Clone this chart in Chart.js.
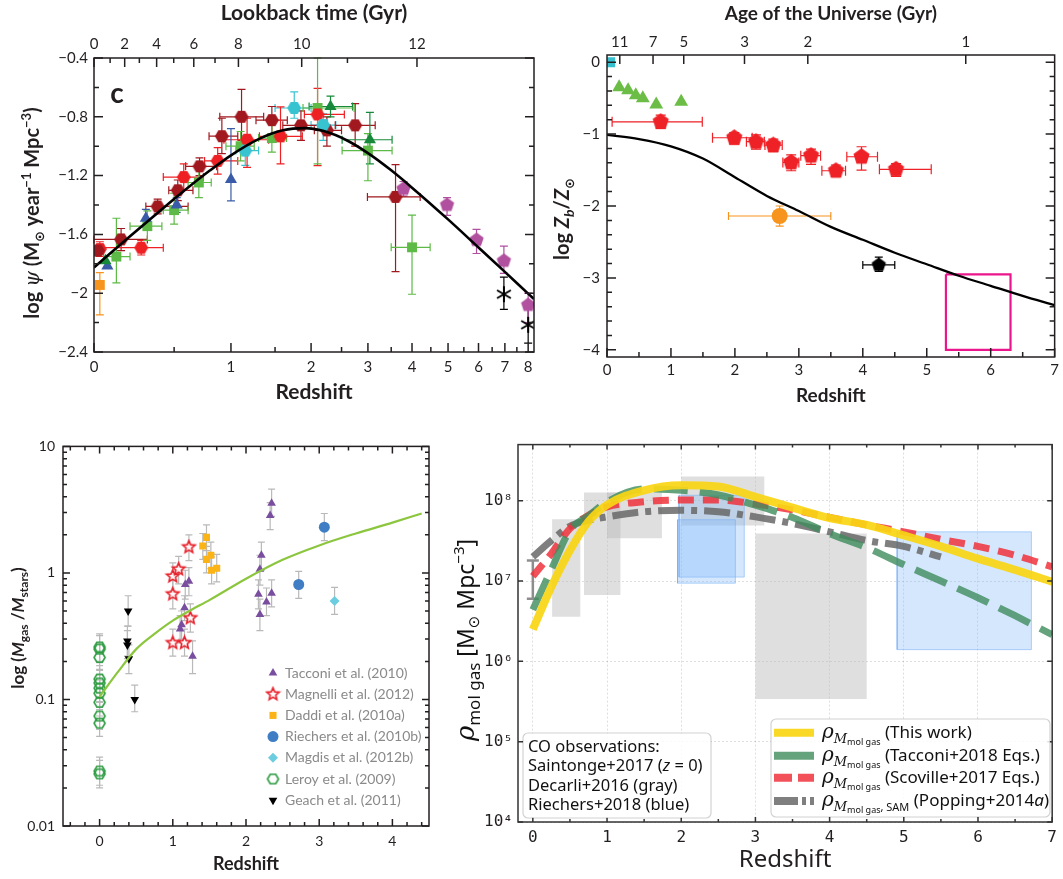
<!DOCTYPE html>
<html>
<head>
<meta charset="utf-8">
<title>Cosmic histories</title>
<script src="https://cdn.jsdelivr.net/npm/chart.js@4.4.1/dist/chart.umd.min.js"></script>
<style>
  html, body { margin: 0; padding: 0; background: #fff; }
  #page { position: relative; width: 1063px; height: 879px; overflow: hidden; }
  .panel { position: absolute; }
</style>
</head>
<body>
<div id="page">
  <div class="panel" style="left:0;top:0;width:545px;height:410px"><canvas id="sfh"></canvas></div>
  <div class="panel" style="left:545px;top:0;width:518px;height:410px"><canvas id="metal"></canvas></div>
  <div class="panel" style="left:0;top:430px;width:460px;height:449px"><canvas id="gasfrac"></canvas></div>
  <div class="panel" style="left:450px;top:430px;width:613px;height:449px"><canvas id="molgas"></canvas></div>
</div>
<script>
// ---------- panel c: star formation rate density ----------
// rows: [z, log psi, z low, z high, log psi low, log psi high]
const sfhRed = [
  [0.03, -1.70, null, null, -1.65, -1.75],
  [0.27, -1.69, 0.05, 0.42, -1.64, -1.74],
  [0.575, -1.21, 0.42, 0.74, -1.12, -1.30],
  [0.87, -1.10, 0.75, 1.07, -1.01, -1.19],
  [1.17, -0.956, 0.93, 1.42, -0.81, -1.144],
  [1.57, -0.933, 1.31, 1.87, -0.732, -1.12],
  [2.1, -0.784, 1.9, 2.55, -0.606, -1.132]
];
const sfhDarkRed = [
  [0.02, -1.71, null, null, null, null],
  [0.147, -1.634, 0.0, 0.31, -1.56, -1.71],
  [0.38, -1.41, 0.30, 0.61, -1.36, -1.46],
  [0.528, -1.30, 0.46, 0.65, -1.23, -1.37],
  [0.706, -1.137, 0.59, 0.86, -1.08, -1.20],
  [0.91, -0.932, 0.79, 1.07, -0.81, -1.05],
  [1.11, -0.80, 0.89, 1.36, -0.613, -0.96],
  [1.46, -0.823, 1.27, 1.66, -0.73, -0.915],
  [1.85, -0.858, 1.6, 2.17, -0.76, -0.96],
  [2.25, -0.892, 2.05, 2.5, -0.80, -1.0],
  [2.75, -0.858, 2.39, 3.15, -0.71, -1.0],
  [3.6, -1.345, 2.99, 4.21, -1.125, -1.853]
];
const sfhGreen = [
  [0.12, -1.751, 0.05, 0.2, -1.49, -1.93],
  [0.31, -1.544, 0.2, 0.41, -1.44, -1.64],
  [0.50, -1.435, 0.42, 0.61, -1.32, -1.53],
  [0.70, -1.247, 0.61, 0.81, -1.15, -1.35],
  [1.1, -1.0, 0.95, 1.25, -0.9, -1.1],
  [1.46, -0.945, 1.3, 1.65, -0.85, -1.04],
  [2.1, -0.74, 1.88, 2.73, -0.4, -1.12],
  [3.0, -1.03, 2.51, 3.52, -0.915, -1.235],
  [4.0, -1.688, 3.5, 4.48, -1.469, -2.007]
];
const sfhDarkGreen = [
  [0.06, -1.78, null, null, null, null],
  [2.31, -0.73, 1.97, 2.7, -0.66, -0.8],
  [3.04, -0.956, 2.51, 3.52, -0.77, -1.12]
];
const sfhBlue = [
  [0.07, -1.815, null, null, null, null],
  [0.30, -1.49, null, null, -1.43, -1.55],
  [0.52, -1.40, null, null, -1.35, -1.45],
  [1.0, -1.227, null, null, -0.88, -1.372]
];
const sfhCyan = [
  [1.15, -1.03, 1.05, 1.3, -0.93, -1.13],
  [1.755, -0.74, 1.5, 2.0, -0.63, -0.81],
  [2.19, -0.856, 2.0, 2.4, -0.78, -0.96]
];
const sfhMagenta = [
  [3.79, -1.29, null, null, -1.24, -1.34],
  [4.97, -1.40, null, null, -1.35, -1.47],
  [5.93, -1.638, null, null, -1.566, -1.73],
  [6.96, -1.78, null, null, -1.68, -1.865],
  [8.0, -2.08, null, null, -2.0, -2.2]
];
const sfhOrange = [[0.03, -1.944, null, null, -1.86, -2.147]];
const sfhBlack = [
  [6.96, -2.007, null, null, -1.89, -2.11],
  [8.0, -2.215, null, null, -2.07, -2.34]
];
const sfhCurveZ = [0, 0.2, 0.4, 0.6, 0.8, 1, 1.3, 1.6, 1.9, 2.2, 2.6, 3, 3.5, 4, 5, 6, 7, 8, 8.27];
const sfhCurveV = [-1.825, -1.613, -1.437, -1.288, -1.164, -1.062, -0.952, -0.892, -0.877, -0.897,
                   -0.961, -1.047, -1.164, -1.282, -1.498, -1.689, -1.855, -2.003, -2.04];
const sfhZTicks = [0, 1, 2, 3, 4, 5, 6, 7, 8];
const sfhZMinor = [0.5, 1.5, 2.5, 3.5, 4.5, 5.5, 6.5, 7.5];
const sfhYTicks = [-2.4, -2.0, -1.6, -1.2, -0.8, -0.4];
const sfhYMinor = [-2.2, -1.8, -1.4, -1.0, -0.6];
const lookbackLabels = [0, 2, 4, 6, 8, 10, 12];
const lookbackZ = [0, 0.168, 0.373, 0.657, 1.077, 1.861, 4.127];
const lookbackMinorZ = [0.085, 0.258, 0.497, 0.845, 1.417, 2.606];

// ---------- top right: metallicity of the universe ----------
const metCyan = [[0.05, 0.0]];
const metGreen = [[0.19, -0.35], [0.33, -0.39], [0.45, -0.46], [0.56, -0.5], [0.77, -0.59], [1.16, -0.55]];
const metRed = [
  [0.84, -0.829, 0.08, 1.49, -0.736, -0.921],
  [1.99, -1.051, 1.65, 2.27, -0.98, -1.14],
  [2.33, -1.106, 2.18, 2.46, -1.01, -1.21],
  [2.6, -1.153, 2.47, 2.74, -1.07, -1.245],
  [2.88, -1.394, 2.75, 3.0, -1.29, -1.51],
  [3.19, -1.30, 3.03, 3.34, -1.21, -1.42],
  [3.58, -1.51, 3.36, 3.73, -1.43, -1.59],
  [3.98, -1.315, 3.75, 4.23, -1.176, -1.5],
  [4.52, -1.49, 4.26, 5.07, -1.41, -1.59]
];
const metOrange = [[2.7, -2.139, 1.9, 3.5, -2.0, -2.28]];
const metBlack = [[4.25, -2.82, 4.0, 4.5, -2.71, -2.91]];
const metBox = [[5.3, -2.95], [6.31, -2.95], [6.31, -4.0], [5.3, -4.0], [5.3, -2.95]];
const metCurveZ = [0, 0.5, 1, 1.5, 2, 2.5, 3, 3.5, 4, 4.5, 5, 5.5, 6, 6.5, 7];
const metCurveV = [-1.01, -1.07, -1.17, -1.34, -1.6, -1.86, -2.07, -2.29, -2.47, -2.65, -2.81, -2.97, -3.11, -3.25, -3.38];
const metZTicks = [0, 1, 2, 3, 4, 5, 6, 7];
const metYTicks = [-4, -3, -2, -1, 0];
const ageLabels = [11, 7, 5, 3, 2, 1];
const ageZ = [0.2, 0.72, 1.2, 2.15, 3.14, 5.61];

// ---------- bottom left: gas fractions ----------
// rows: [z, Mgas/Mstars, low, high]
const fracTacconi = [
  [1.10, 0.36, 0.28, 0.46], [1.12, 0.39, 0.30, 0.50], [1.16, 0.53, 0.42, 0.66], [1.17, 0.81, 0.62, 1.05],
  [1.22, 0.86, 0.66, 1.1], [1.27, 0.22, 0.16, 0.29], [2.17, 0.68, 0.52, 0.88], [2.19, 1.07, 0.80, 1.38],
  [2.21, 1.38, 1.05, 1.75], [2.19, 0.47, 0.35, 0.62], [2.28, 0.59, 0.46, 0.76], [2.35, 0.69, 0.54, 0.88],
  [2.33, 2.85, 2.2, 3.6], [2.35, 3.55, 2.8, 4.6]
];
const fracMagnelli = [
  [1.0, 0.94, 0.72, 1.2], [1.08, 1.07, 0.82, 1.35], [1.0, 0.68, 0.52, 0.88], [1.22, 1.6, 1.25, 2.0],
  [1.24, 0.44, 0.34, 0.57], [1.0, 0.28, 0.22, 0.36], [1.16, 0.28, 0.22, 0.36]
];
const fracDaddi = [
  [1.46, 1.91, 1.5, 2.4], [1.41, 1.63, 1.28, 2.05], [1.52, 1.38, 1.08, 1.75],
  [1.46, 1.28, 1.0, 1.62], [1.6, 1.09, 0.85, 1.4], [1.53, 1.05, 0.82, 1.34]
];
const fracRiechers = [[3.07, 2.3, 1.8, 2.95], [2.72, 0.81, 0.63, 1.03]];
const fracMagdis = [[3.21, 0.6, 0.47, 0.77]];
const fracLeroy = [
  [0, 0.26, 0.2, 0.33], [0, 0.25, 0.195, 0.32], [0, 0.215, 0.17, 0.28], [0, 0.145, 0.113, 0.185],
  [0, 0.135, 0.105, 0.173], [0, 0.123, 0.096, 0.157], [0, 0.112, 0.087, 0.143], [0, 0.095, 0.074, 0.122],
  [0, 0.074, 0.058, 0.095], [0, 0.065, 0.051, 0.083], [0, 0.0272, 0.021, 0.035], [0, 0.0258, 0.02, 0.033]
];
const fracGeach = [[0.39, 0.5, 0.38, 0.66], [0.38, 0.29, 0.22, 0.38], [0.38, 0.27, 0.21, 0.35], [0.4, 0.21, 0.16, 0.27], [0.48, 0.1, 0.08, 0.13]];
const fracCurveZ = [0, 0.25, 0.5, 0.75, 1, 1.25, 1.5, 2, 2.5, 3, 3.5, 4, 4.4];
const fracCurveV = [0.105, 0.165, 0.25, 0.33, 0.42, 0.51, 0.61, 0.9, 1.27, 1.65, 2.05, 2.5, 2.95];
const fracZTicks = [0, 1, 2, 3, 4];
const fracYTicks = [0.01, 0.1, 1, 10];

// ---------- bottom right: molecular gas density ----------
const gasZ = [0, 0.25, 0.5, 0.75, 1, 1.5, 2, 2.5, 3, 3.5, 4, 4.5, 5, 5.5, 6, 6.5, 7];
const gasThisWork = [2.5e6, 8.5e6, 2.4e7, 5.5e7, 8.9e7, 1.35e8, 1.56e8, 1.5e8, 1.12e8, 8.2e7, 6.1e7, 5.0e7, 3.7e7, 2.7e7, 1.9e7, 1.38e7, 9.8e6];
const gasTacconi = [4.4e6, 1.4e7, 4.3e7, 6.5e7, 9.7e7, 1.4e8, 1.35e8, 1.18e8, 8.8e7, 6.2e7, 3.9e7, 2.6e7, 1.6e7, 1.0e7, 6.2e6, 3.7e6, 2.15e6];
const gasScoville = [1.15e7, 2.2e7, 4.5e7, 6.6e7, 8.4e7, 9.7e7, 1.02e8, 1.02e8, 9.1e7, 7.7e7, 6.2e7, 5.0e7, 4.1e7, 3.3e7, 2.7e7, 2.1e7, 1.5e7];
const gasPopping = [2.0e7, 3.2e7, 4.8e7, 5.7e7, 6.3e7, 7.3e7, 7.6e7, 7.3e7, 6.3e7, 5.2e7, 4.1e7, 3.2e7, 2.7e7, 2.0e7];
const saintonge = [0, 6.0e6, 1.8e7]; // z, low, high
// boxes: [z from, z to, low, high]
const decarliBoxes = [[0.26, 0.64, 3.6e6, 5.9e7], [0.69, 1.18, 6.7e6, 1.27e8], [1.0, 1.74, 3.4e7, 1.27e8], [2.0, 3.12, 4.9e7, 2.0e8], [3.0, 4.5, 3.4e5, 3.9e7]];
const riechersBoxes = [[1.95, 2.73, 9.4e6, 5.8e7], [1.97, 2.85, 1.12e7, 1.17e8], [4.91, 6.72, 1.4e6, 4.1e7]];
const gasZTicks = [0, 1, 2, 3, 4, 5, 6, 7];
const gasZMinor = [0.5, 1.5, 2.5, 3.5, 4.5, 5.5, 6.5];
const gasYTicks = [1e4, 1e5, 1e6, 1e7, 1e8];

// ---------------------------------------------------------------
Chart.defaults.font.family = 'Lato, "DejaVu Sans", sans-serif';
Chart.defaults.color = '#231f20';
Chart.defaults.animation = false;
Chart.defaults.plugins.legend.display = false;
Chart.defaults.plugins.tooltip.enabled = false;
const INK = '#231f20';

function shape(kind, r, fill, stroke, lw) {
  lw = lw || 0;
  const s = Math.ceil(2 * r + lw + 2);
  const c = document.createElement('canvas');
  c.width = s; c.height = s;
  const g = c.getContext('2d');
  g.translate(s / 2, s / 2);
  g.beginPath();
  if (kind === 'ast') {
    for (let i = 0; i < 3; i++) {
      const a = Math.PI / 2 + i * Math.PI / 3;
      g.moveTo(r * Math.cos(a), r * Math.sin(a));
      g.lineTo(-r * Math.cos(a), -r * Math.sin(a));
    }
    g.lineWidth = lw; g.strokeStyle = stroke; g.stroke();
    return c;
  }
  if (kind === 'star') {
    for (let i = 0; i < 10; i++) {
      const a = -Math.PI / 2 + i * Math.PI / 5, rr = i % 2 ? r * 0.45 : r;
      g.lineTo(rr * Math.cos(a), rr * Math.sin(a));
    }
  } else {
    const n = kind === 'hex' ? 6 : 5, a0 = kind === 'hex' ? 0 : -Math.PI / 2;
    for (let i = 0; i < n; i++) {
      const a = a0 + i * 2 * Math.PI / n;
      g.lineTo(r * Math.cos(a), r * Math.sin(a));
    }
  }
  g.closePath();
  if (fill) { g.fillStyle = fill; g.fill(); }
  if (stroke && lw) { g.lineWidth = lw; g.strokeStyle = stroke; g.stroke(); }
  return c;
}

// rows with [x, y, xlo, xhi, ylo, yhi]; shift moves x (1+z on the log axis)
function series(rows, style, shift) {
  shift = shift || 0;
  const sx = v => (v == null ? null : v + shift);
  return Object.assign({
    data: rows.map(r => ({ x: r[0] + shift, y: r[1] })),
    errs: rows.map(r => [sx(r[2]), sx(r[3]), r[4] == null ? null : r[4], r[5] == null ? null : r[5]]),
    errColor: style.backgroundColor, borderWidth: 0
  }, style);
}
// rows with [x, y, ylo, yhi]
function vseries(rows, style) {
  return Object.assign({
    data: rows.map(r => ({ x: r[0], y: r[1] })),
    errs: rows.map(r => [null, null, r[2], r[3]]),
    errColor: '#b9b9b9', errWidth: 1.2, cap: 3.5, borderWidth: 0
  }, style);
}
function curve(xs, ys, color, width, dash, shift) {
  shift = shift || 0;
  return {
    type: 'line', data: xs.slice(0, ys.length).map((x, i) => ({ x: x + shift, y: ys[i] })),
    borderColor: color, borderWidth: width, borderDash: dash || [], borderCapStyle: 'butt',
    pointRadius: 0, fill: false, cubicInterpolationMode: 'monotone'
  };
}
function box(b, fillC, lineC) {
  return {
    type: 'line',
    data: [{ x: b[0], y: b[2] }, { x: b[1], y: b[2] }, { x: b[1], y: b[3] }, { x: b[0], y: b[3] }, { x: b[0], y: b[2] }],
    fill: 'shape', backgroundColor: fillC, borderColor: lineC || 'rgba(0,0,0,0)', borderWidth: lineC ? 1 : 0,
    pointRadius: 0, tension: 0
  };
}
function axis(o) {
  return Object.assign({ grid: { display: false, drawTicks: false }, border: { display: false } }, o);
}
const fixTicks = list => s => { s.ticks = list.map(v => ({ value: v })); };
const minus = v => String(Math.round(v * 10) / 10).replace('-', '\u2212');

const errorBars = {
  id: 'errorBars',
  beforeDatasetsDraw(chart) {
    const ctx = chart.ctx;
    chart.data.datasets.forEach(ds => {
      if (!ds.errs) return;
      const xs = chart.scales.x, ys = chart.scales.y, cap = ds.cap || 4;
      ctx.save();
      ctx.strokeStyle = ds.errColor;
      ctx.lineWidth = ds.errWidth || 1.2;
      ds.errs.forEach((e, j) => {
        const px = xs.getPixelForValue(ds.data[j].x), py = ys.getPixelForValue(ds.data[j].y);
        ctx.beginPath();
        if (e[0] != null) {
          const a = xs.getPixelForValue(e[0]), b = xs.getPixelForValue(e[1]);
          ctx.moveTo(a, py); ctx.lineTo(b, py);
          ctx.moveTo(a, py - cap); ctx.lineTo(a, py + cap);
          ctx.moveTo(b, py - cap); ctx.lineTo(b, py + cap);
        }
        if (e[2] != null) {
          const a = ys.getPixelForValue(e[2]), b = ys.getPixelForValue(e[3]);
          ctx.moveTo(px, a); ctx.lineTo(px, b);
          ctx.moveTo(px - cap, a); ctx.lineTo(px + cap, a);
          ctx.moveTo(px - cap, b); ctx.lineTo(px + cap, b);
        }
        ctx.stroke();
      });
      ctx.restore();
    });
  }
};

function framePlugin(spec) {
  return {
    id: 'frame',
    afterDraw(chart) {
      const ctx = chart.ctx, a = chart.chartArea;
      ctx.save();
      ctx.strokeStyle = spec.color;
      ctx.lineWidth = spec.width;
      spec.ticks.forEach(t => {
        const s = chart.scales[t.scale];
        const marks = s.ticks.map(k => [k.value, t.len]).concat((t.minor || []).map(v => [v, t.minorLen]));
        marks.forEach(([v, len]) => {
          const p = s.getPixelForValue(v);
          ctx.beginPath();
          if (s.isHorizontal()) {
            if (p < a.left - 0.5 || p > a.right + 0.5) return;
            if (t.sides.includes('bottom')) { ctx.moveTo(p, a.bottom); ctx.lineTo(p, a.bottom - len); }
            if (t.sides.includes('top')) { ctx.moveTo(p, a.top); ctx.lineTo(p, a.top + len); }
          } else {
            if (p < a.top - 0.5 || p > a.bottom + 0.5) return;
            if (t.sides.includes('left')) { ctx.moveTo(a.left, p); ctx.lineTo(a.left + len, p); }
            if (t.sides.includes('right')) { ctx.moveTo(a.right, p); ctx.lineTo(a.right - len, p); }
          }
          ctx.stroke();
        });
      });
      ctx.strokeRect(a.left, a.top, a.right - a.left, a.bottom - a.top);
      ctx.restore();
      if (spec.extra) { ctx.save(); spec.extra(chart, ctx); ctx.restore(); }
    }
  };
}

// mixed-font text, centred on (x, y) or left-aligned; rotated reads bottom to top
function rich(ctx, parts, x, y, rotate, align) {
  ctx.save();
  ctx.translate(x, y);
  if (rotate) ctx.rotate(-Math.PI / 2);
  let w = 0;
  parts.forEach(p => { ctx.font = p[1]; w += ctx.measureText(p[0]).width; });
  let cx = align === 'left' ? 0 : -w / 2;
  ctx.textAlign = 'left';
  ctx.textBaseline = 'alphabetic';
  parts.forEach(p => { ctx.font = p[1]; ctx.fillText(p[0], cx, p[2] || 0); cx += ctx.measureText(p[0]).width; });
  ctx.restore();
}

// ---------- chart: star formation history ----------
const C = { red: '#ee2024', dred: '#a1191f', green: '#5dba46', dgreen: '#168a3a', blue: '#3a5ca8', cyan: '#38c3d1', mag: '#b1509f', orange: '#f7941d' };
new Chart(document.getElementById('sfh'), {
  type: 'scatter',
  data: {
    datasets: [
      curve(sfhCurveZ, sfhCurveV, '#000', 2.6, [], 1),
      series(sfhBlack, { pointStyle: shape('ast', 8, null, '#000', 2), pointRadius: 8, backgroundColor: '#000' }, 1),
      series(sfhMagenta, { pointStyle: shape('pent', 7.5, C.mag), pointRadius: 7, backgroundColor: C.mag }, 1),
      series(sfhOrange, { pointStyle: 'rect', pointRadius: 7, backgroundColor: C.orange }, 1),
      series(sfhCyan, { pointStyle: shape('hex', 7, C.cyan), pointRadius: 7, backgroundColor: C.cyan }, 1),
      series(sfhDarkRed, { pointStyle: shape('hex', 7, C.dred), pointRadius: 7, backgroundColor: C.dred }, 1),
      series(sfhRed, { pointStyle: shape('hex', 7, C.red), pointRadius: 7, backgroundColor: C.red }, 1),
      series(sfhDarkGreen, { pointStyle: 'triangle', pointRadius: 7, backgroundColor: C.dgreen }, 1),
      series(sfhBlue, { pointStyle: 'triangle', pointRadius: 7, backgroundColor: C.blue }, 1),
      series(sfhGreen, { pointStyle: 'rect', pointRadius: 7, backgroundColor: C.green }, 1)
    ]
  },
  options: {
    responsive: true, maintainAspectRatio: false,
    layout: { padding: { right: 11 } },
    scales: {
      x: axis({
        type: 'logarithmic', position: 'bottom', min: 1, max: 9.27,
        afterBuildTicks: fixTicks(sfhZTicks.map(z => 1 + z)),
        afterFit: s => { s.height = 58; },
        ticks: { callback: (v, i) => String(sfhZTicks[i]), autoSkip: false, maxRotation: 0, padding: 6, font: { size: 15 } },
        title: { display: true, text: 'Redshift', font: { size: 21, weight: 'bold' }, padding: { top: 0, bottom: 5 } }
      }),
      x2: axis({
        type: 'logarithmic', position: 'top', axis: 'x', min: 1, max: 9.27,
        afterBuildTicks: fixTicks(lookbackZ.map(z => 1 + z)),
        afterFit: s => { s.height = 58; },
        ticks: { callback: (v, i) => String(lookbackLabels[i]), autoSkip: false, maxRotation: 0, padding: 5, font: { size: 15 } },
        title: { display: true, text: 'Lookback time (Gyr)', font: { size: 21, weight: 'bold' }, padding: { top: 1, bottom: 0 } }
      }),
      y: axis({
        type: 'linear', min: -2.4, max: -0.4,
        afterBuildTicks: fixTicks(sfhYTicks),
        afterFit: s => { s.width = 94; },
        ticks: { callback: v => minus(v), padding: 6, font: { size: 15 } }
      })
    }
  },
  plugins: [errorBars, framePlugin({
    color: INK, width: 1.5,
    ticks: [
      { scale: 'x', sides: ['bottom'], len: 9, minor: sfhZMinor.map(z => 1 + z), minorLen: 5 },
      { scale: 'x2', sides: ['top'], len: 9, minor: lookbackMinorZ.map(z => 1 + z), minorLen: 5 },
      { scale: 'y', sides: ['left', 'right'], len: 9, minor: sfhYMinor, minorLen: 5 }
    ],
    extra(chart, ctx) {
      ctx.fillStyle = INK;
      ctx.font = 'bold 28px Lato';
      ctx.textAlign = 'center'; ctx.textBaseline = 'middle';
      ctx.fillText('c', 117, 94);
      rich(ctx, [
        ['log ', 'bold 20px Lato'], ['\u03c8', 'italic 20px "DejaVu Serif"'], [' (M', 'bold 20px Lato'],
        ['\u2299', 'bold 13px "DejaVu Sans"', 5], [' year', 'bold 20px Lato'], ['\u22121', 'bold 13px Lato', -8],
        [' Mpc', 'bold 20px Lato'], ['\u22123', 'bold 13px Lato', -8], [')', 'bold 20px Lato']
      ], 39, 213, true);
    }
  })]
});

// ---------- chart: metallicity ----------
new Chart(document.getElementById('metal'), {
  type: 'scatter',
  data: {
    datasets: [
      curve(metCurveZ, metCurveV, '#000', 2.3, []),
      { type: 'line', data: metBox.map(p => ({ x: p[0], y: p[1] })), borderColor: '#ec168c', borderWidth: 2.2, pointRadius: 0, tension: 0, fill: false },
      series(metBlack, { pointStyle: shape('pent', 7.5, '#000'), pointRadius: 7, backgroundColor: '#000' }),
      series(metOrange, { pointStyle: 'circle', pointRadius: 8, backgroundColor: '#f7941d' }),
      series(metRed, { pointStyle: shape('pent', 8.5, '#ee2127'), pointRadius: 8, backgroundColor: '#ee2127', cap: 5 }),
      series(metGreen, { pointStyle: 'triangle', pointRadius: 8, backgroundColor: '#6bbd45' }),
      series(metCyan, { pointStyle: 'rect', pointRadius: 7, backgroundColor: '#35bfcf' })
    ]
  },
  options: {
    responsive: true, maintainAspectRatio: false,
    layout: { padding: { right: 6 } },
    scales: {
      x: axis({
        type: 'linear', min: 0, max: 7,
        afterBuildTicks: fixTicks(metZTicks),
        afterFit: s => { s.height = 53; },
        ticks: { callback: (v, i) => String(metZTicks[i]), autoSkip: false, maxRotation: 0, padding: 4, font: { size: 15 } },
        title: { display: true, text: 'Redshift', font: { size: 19, weight: 'bold' }, padding: { top: 0, bottom: 3 } }
      }),
      x2: axis({
        type: 'linear', position: 'top', axis: 'x', min: 0, max: 7,
        afterBuildTicks: fixTicks(ageZ),
        afterFit: s => { s.height = 55; },
        ticks: { callback: (v, i) => String(ageLabels[i]), autoSkip: false, maxRotation: 0, padding: 4, font: { size: 15 } },
        title: { display: true, text: 'Age of the Universe (Gyr)', font: { size: 19, weight: 'bold' }, padding: { top: 2, bottom: 0 } }
      }),
      y: axis({
        type: 'linear', min: -4.1, max: 0.1,
        afterBuildTicks: fixTicks(metYTicks),
        afterFit: s => { s.width = 62; },
        ticks: { callback: v => minus(v), padding: 7, font: { size: 15 } }
      })
    }
  },
  plugins: [errorBars, framePlugin({
    color: INK, width: 1.5,
    ticks: [
      { scale: 'x', sides: ['bottom'], len: 9, minor: [0.5, 1.5, 2.5, 3.5, 4.5, 5.5, 6.5], minorLen: 5 },
      { scale: 'x2', sides: ['top'], len: 9 },
      { scale: 'y', sides: ['left', 'right'], len: 9, minor: [-3.8, -3.6, -3.4, -3.2, -2.8, -2.6, -2.4, -2.2, -1.8, -1.6, -1.4, -1.2, -0.8, -0.6, -0.4, -0.2], minorLen: 5 }
    ],
    extra(chart, ctx) {
      ctx.fillStyle = INK;
      rich(ctx, [
        ['log ', 'bold 20px Lato'], ['Z', 'italic bold 20px Lato'], ['b', 'italic bold 14px Lato', 5],
        ['/', 'bold 20px Lato'], ['Z', 'italic bold 20px Lato'], ['\u2299', 'bold 13px "DejaVu Sans"', 5]
      ], 24, 219, true);
    }
  })]
});

// ---------- chart: gas fraction ----------
const fracSets = [
  vseries(fracTacconi, { label: 'Tacconi et al. (2010)', pointStyle: 'triangle', pointRadius: 5, backgroundColor: '#7a4e9f' }),
  vseries(fracMagnelli, { label: 'Magnelli et al. (2012)', pointStyle: shape('star', 6.5, 'rgba(255,255,255,0.9)', '#e8202a', 1.6), pointRadius: 6, backgroundColor: '#e8202a' }),
  vseries(fracDaddi, { label: 'Daddi et al. (2010a)', pointStyle: 'rect', pointRadius: 5, backgroundColor: '#fbb316' }),
  vseries(fracRiechers, { label: 'Riechers et al. (2010b)', pointStyle: 'circle', pointRadius: 5.5, backgroundColor: '#3f7ec4' }),
  vseries(fracMagdis, { label: 'Magdis et al. (2012b)', pointStyle: 'rectRot', pointRadius: 5, backgroundColor: '#6ccde0' }),
  vseries(fracLeroy, { label: 'Leroy et al. (2009)', pointStyle: shape('hex', 5.5, null, '#2c9b40', 1.6), pointRadius: 5, backgroundColor: '#2c9b40' }),
  vseries(fracGeach, { label: 'Geach et al. (2011)', pointStyle: 'triangle', rotation: 180, pointRadius: 5, backgroundColor: '#000' })
];
const fracYMinor = [];
[0.01, 0.1, 1].forEach(d => { for (let k = 2; k <= 9; k++) fracYMinor.push(k * d); });
const fracXMinor = [];
for (let i = -2; i <= 22; i++) { if (i % 5 !== 0) fracXMinor.push(i / 5); }
new Chart(document.getElementById('gasfrac'), {
  type: 'scatter',
  data: { datasets: [curve(fracCurveZ, fracCurveV, '#8cc63f', 2.2, [])].concat(fracSets) },
  options: {
    responsive: true, maintainAspectRatio: false,
    layout: { padding: { top: 16, right: 31 } },
    scales: {
      x: axis({
        type: 'linear', min: -0.5, max: 4.5,
        afterBuildTicks: fixTicks(fracZTicks),
        afterFit: s => { s.height = 53; },
        ticks: { callback: (v, i) => String(fracZTicks[i]), autoSkip: false, maxRotation: 0, padding: 7, font: { size: 14 } },
        title: { display: true, text: 'Redshift', font: { size: 18, weight: 'bold' }, padding: { top: 0, bottom: 4 } }
      }),
      y: axis({
        type: 'logarithmic', min: 0.01, max: 10,
        afterBuildTicks: fixTicks(fracYTicks),
        afterFit: s => { s.width = 63; },
        ticks: { callback: v => String(v), padding: 8, font: { size: 14 } }
      })
    }
  },
  plugins: [errorBars, framePlugin({
    color: INK, width: 1.5,
    ticks: [
      { scale: 'x', sides: ['bottom', 'top'], len: 7, minor: fracXMinor, minorLen: 4 },
      { scale: 'y', sides: ['left', 'right'], len: 7, minor: fracYMinor, minorLen: 4 }
    ],
    extra(chart, ctx) {
      ctx.fillStyle = INK;
      rich(ctx, [
        ['log (', 'bold 17px Lato'], ['M', 'italic bold 17px Lato'], ['gas', 'bold 12px Lato', 4],
        [' /', 'bold 17px Lato'], ['M', 'italic bold 17px Lato'], ['stars', 'bold 12px Lato', 4], [')', 'bold 17px Lato']
      ], 24, 198, true);
      // legend
      chart.data.datasets.forEach((ds) => {
        if (!ds.label) return;
        const i = fracSets.indexOf(ds), y = 243 + 21.2 * i;
        ctx.fillStyle = ds.backgroundColor; ctx.strokeStyle = ds.backgroundColor; ctx.lineWidth = 0;
        Chart.helpers.drawPoint(ctx, { pointStyle: ds.pointStyle, radius: ds.pointRadius, rotation: ds.rotation || 0, borderWidth: 0 }, 273, y);
        ctx.fillStyle = '#8a8a8a';
        ctx.font = '14px Lato';
        ctx.textAlign = 'left'; ctx.textBaseline = 'middle';
        ctx.fillText(ds.label, 285, y);
      });
    }
  })]
});

// ---------- chart: molecular gas density ----------
const sup = { '4': '\u2074', '5': '\u2075', '6': '\u2076', '7': '\u2077', '8': '\u2078' };
const molSets = [
  curve(gasZ, gasThisWork, 'rgba(250,214,20,0.92)', 8, []),
  curve(gasZ, gasTacconi, 'rgba(62,140,92,0.8)', 7, [34, 12]),
  curve(gasZ, gasScoville, 'rgba(240,50,60,0.85)', 7, [16, 9]),
  curve(gasZ, gasPopping, 'rgba(105,105,105,0.85)', 7, [26, 7, 6, 7]),
  { data: [{ x: saintonge[0], y: saintonge[1] }], errs: [[null, null, saintonge[1], saintonge[2]]], pointRadius: 0, errColor: 'rgba(130,130,130,0.9)', errWidth: 2.5, cap: 6 }
].concat(riechersBoxes.map(b => box(b, 'rgba(120,180,250,0.32)', 'rgba(110,170,245,0.5)')))
 .concat(decarliBoxes.map(b => box(b, 'rgba(185,185,185,0.45)', null)));
const LF = '"Noto Sans"';
const molLegend = [
  { row: 0, text: [[' (This work)', '17px ' + LF]] },
  { row: 1, text: [[' (Tacconi+2018 Eqs.)', '17px ' + LF]] },
  { row: 2, text: [[' (Scoville+2017 Eqs.)', '17px ' + LF]] },
  { row: 3, text: [[', SAM', '11px ' + LF, 5], [' (Popping+2014', '17px ' + LF], ['a', 'italic 17px ' + LF], [')', '17px ' + LF]] }
];
function roundBox(ctx, x, y, w, h, r) {
  ctx.beginPath();
  ctx.moveTo(x + r, y); ctx.arcTo(x + w, y, x + w, y + h, r); ctx.arcTo(x + w, y + h, x, y + h, r);
  ctx.arcTo(x, y + h, x, y, r); ctx.arcTo(x, y, x + w, y, r); ctx.closePath();
  ctx.fillStyle = 'rgba(255,255,255,0.85)'; ctx.fill();
  ctx.strokeStyle = 'rgba(0,0,0,0.18)'; ctx.lineWidth = 1.2; ctx.stroke();
}
new Chart(document.getElementById('molgas'), {
  type: 'scatter',
  data: { datasets: molSets },
  options: {
    responsive: true, maintainAspectRatio: false,
    layout: { padding: { top: 13, right: 10 } },
    scales: {
      x: {
        type: 'linear', min: -0.2, max: 7,
        afterBuildTicks: fixTicks(gasZTicks),
        afterFit: s => { s.height = 57; },
        grid: { display: true, drawTicks: false, color: 'rgba(0,0,0,0.13)', lineWidth: 1 },
        border: { display: false, dash: [2, 2] },
        ticks: { callback: (v, i) => String(gasZTicks[i]), autoSkip: false, maxRotation: 0, padding: 6, font: { family: '"DejaVu Sans Mono"', size: 16 } },
        title: { display: true, text: 'Redshift', font: { family: LF, size: 24 }, padding: { top: 0, bottom: 4 } }
      },
      y: {
        type: 'logarithmic', min: 1e4, max: 5e8,
        afterBuildTicks: fixTicks(gasYTicks),
        afterFit: s => { s.width = 68; },
        grid: { display: true, drawTicks: false, color: 'rgba(0,0,0,0.13)', lineWidth: 1 },
        border: { display: false, dash: [2, 2] },
        ticks: { callback: v => '10' + sup[String(Math.round(Math.log10(v)))], padding: 5, font: { family: '"DejaVu Sans Mono"', size: 16 } }
      }
    }
  },
  plugins: [errorBars, framePlugin({
    color: '#333', width: 1.5,
    ticks: [
      { scale: 'x', sides: ['bottom', 'top'], len: 5, minor: gasZMinor, minorLen: 3 },
      { scale: 'y', sides: ['left', 'right'], len: 5 }
    ],
    extra(chart, ctx) {
      ctx.fillStyle = '#111';
      rich(ctx, [
        ['\u03c1', 'italic 26px "DejaVu Serif"'], ['mol gas', '17px ' + LF, 6], [' [M', '23px ' + LF],
        ['\u2299', '15px "DejaVu Sans"', 5], [' Mpc', '23px ' + LF], ['\u22123', '15px ' + LF, -10], [']', '23px ' + LF]
      ], 24, 210, true);
      // observations note
      roundBox(ctx, 73, 303, 188, 85, 5);
      ctx.fillStyle = '#111';
      const NF = '16.5px ' + LF;
      rich(ctx, [['CO observations:', NF]], 78, 322, false, 'left');
      rich(ctx, [['Saintonge+2017 (', NF], ['z', 'italic ' + NF], [' = 0)', NF]], 78, 341, false, 'left');
      rich(ctx, [['Decarli+2016 (gray)', NF]], 78, 361, false, 'left');
      rich(ctx, [['Riechers+2018 (blue)', NF]], 78, 380, false, 'left');
      // model legend
      roundBox(ctx, 321, 289, 279, 98, 5);
      const rows = [302.7, 325.7, 347.7, 371];
      molLegend.forEach(item => {
        const ds = chart.data.datasets[item.row], y = rows[item.row];
        ctx.save();
        ctx.strokeStyle = ds.borderColor; ctx.lineWidth = 8; ctx.lineCap = 'butt';
        ctx.setLineDash(item.row >= 2 ? (item.row === 2 ? [18, 6] : [24, 4, 4, 4]) : []);
        ctx.beginPath(); ctx.moveTo(324, y); ctx.lineTo(364, y); ctx.stroke();
        ctx.restore();
        ctx.fillStyle = '#111';
        rich(ctx, [['\u03c1', 'italic 20px "DejaVu Serif"', 5], ['M', 'italic 13px "DejaVu Serif"', 10], ['mol gas', '9px ' + LF, 12]]
          .concat(item.text.map(t => [t[0], t[1], (t[2] || 0) + 5])), 372, y, false, 'left');
      });
    }
  })]
});
</script>
</body>
</html>
